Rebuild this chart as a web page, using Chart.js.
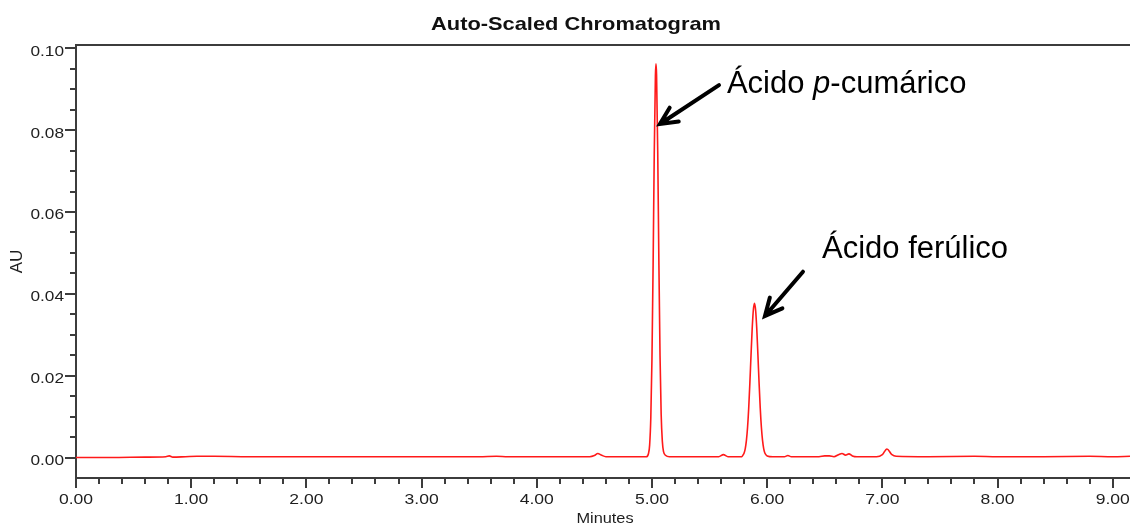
<!DOCTYPE html>
<html>
<head>
<meta charset="utf-8">
<title>Auto-Scaled Chromatogram</title>
<script src="https://cdn.jsdelivr.net/npm/chart.js@4/dist/chart.umd.min.js"></script>
<style>
  html, body { margin: 0; padding: 0; background: #fff; }
  canvas { display: block; }
</style>
</head>
<body>
<canvas id="chromatogram" width="1130" height="527"></canvas>
<script>
// Retention time (minutes) and detector response (AU)
const retentionTimes = [
  0.00, 0.30, 0.60, 0.78, 0.81, 0.84, 0.95, 1.05, 1.20, 1.50,
  2.00, 2.50, 3.00, 3.50, 3.65, 3.75, 4.00, 4.30, 4.46, 4.50,
  4.53, 4.56, 4.60, 4.80, 4.95, 4.97, 4.98, 4.99, 5.00, 5.01,
  5.02, 5.03, 5.035, 5.04, 5.05, 5.06, 5.07, 5.08, 5.09, 5.10,
  5.12, 5.15, 5.40, 5.58, 5.62, 5.66, 5.78, 5.79, 5.80, 5.81,
  5.82, 5.83, 5.84, 5.85, 5.86, 5.87, 5.88, 5.89, 5.90, 5.91,
  5.92, 5.93, 5.94, 5.95, 5.96, 5.97, 5.98, 6.00, 6.05, 6.15,
  6.18, 6.21, 6.30, 6.45, 6.50, 6.54, 6.58, 6.62, 6.65, 6.68,
  6.71, 6.74, 6.78, 6.95, 7.00, 7.04, 7.08, 7.12, 7.40, 7.80,
  8.00, 8.40, 8.80, 9.00, 9.15
];
const absorbance = [
  0.0000, 0.0000, 0.0001, 0.0002, 0.0004, 0.0001, 0.0002, 0.0003, 0.0003, 0.0002,
  0.0002, 0.0002, 0.0002, 0.0002, 0.0003, 0.0002, 0.0002, 0.0002, 0.0002, 0.0005,
  0.0010, 0.0006, 0.0002, 0.0002, 0.0002, 0.0010, 0.0031, 0.0097, 0.0240, 0.0470,
  0.0744, 0.0933, 0.0962, 0.0935, 0.0750, 0.0480, 0.0250, 0.0105, 0.0040, 0.0015,
  0.0005, 0.0002, 0.0002, 0.0002, 0.0007, 0.0002, 0.0002, 0.0006, 0.0011, 0.0022,
  0.0042, 0.0074, 0.0121, 0.0182, 0.0250, 0.0314, 0.0360, 0.0377, 0.0360, 0.0314,
  0.0250, 0.0182, 0.0121, 0.0074, 0.0042, 0.0022, 0.0011, 0.0004, 0.0002, 0.0002,
  0.0005, 0.0002, 0.0002, 0.0002, 0.0004, 0.0004, 0.0002, 0.0007, 0.0010, 0.0006,
  0.0009, 0.0004, 0.0002, 0.0002, 0.0007, 0.0021, 0.0008, 0.0003, 0.0002, 0.0003,
  0.0002, 0.0002, 0.0003, 0.0002, 0.0003
];

// Axis ticks
const xTickValues = [0, 1, 2, 3, 4, 5, 6, 7, 8, 9];
const yTickValues = [0.00, 0.02, 0.04, 0.06, 0.08, 0.10];

// Peak labels (text pieces, italic flag)
const peakLabels = [
  [['Ácido ', false], ['p', true], ['-cumárico', false]],
  [['Ácido ferúlico', false]]
];

// Where the labels and arrows sit, in data units (minutes, AU)
const peakAnnotations = [
  { text: { x: 5.651, y: 0.0891 }, tail: { x: 5.582, y: 0.0910 }, tip: { x: 5.069, y: 0.0815 } },
  { text: { x: 6.476, y: 0.0488 }, tail: { x: 6.311, y: 0.0454 }, tip: { x: 5.981, y: 0.0346 } }
];

const axisColor = '#3c3c3c';
const textColor = '#1e1e1e';
const sansFont = '"Liberation Sans", Arial, sans-serif';

// Draw text squeezed/stretched horizontally
function stretchText(ctx, text, x, y, sx, align) {
  ctx.save();
  ctx.translate(x, y);
  ctx.scale(sx, 1);
  ctx.textAlign = align;
  ctx.fillText(text, 0, 0);
  ctx.restore();
}

function drawArrow(ctx, x0, y0, x1, y1) {
  const ang = Math.atan2(y0 - y1, x0 - x1);
  const wing = 19;
  const spread = 0.45;
  ctx.beginPath();
  ctx.moveTo(x0, y0);
  ctx.lineTo(x1, y1);
  ctx.moveTo(x1 + wing * Math.cos(ang - spread), y1 + wing * Math.sin(ang - spread));
  ctx.lineTo(x1, y1);
  ctx.lineTo(x1 + wing * Math.cos(ang + spread), y1 + wing * Math.sin(ang + spread));
  ctx.stroke();
}

const chromatogramDecor = {
  id: 'chromatogramDecor',
  afterDraw(chart) {
    const ctx = chart.ctx;
    const xs = chart.scales.x;
    const ys = chart.scales.y;
    const area = chart.chartArea;

    ctx.save();
    ctx.strokeStyle = axisColor;
    ctx.lineWidth = 2;

    // top frame line
    ctx.beginPath();
    ctx.moveTo(area.left - 1, area.top);
    ctx.lineTo(area.right, area.top);
    ctx.stroke();

    // x ticks: major every minute, minor every 0.2
    ctx.beginPath();
    for (let i = 0; i * 0.2 <= xs.max + 1e-9; i++) {
      const px = Math.round(xs.getPixelForValue(i * 0.2));
      const len = i % 5 === 0 ? 10 : 6;
      ctx.moveTo(px, area.bottom);
      ctx.lineTo(px, area.bottom + len);
    }
    // y ticks: major every 0.02, minor every 0.005
    for (let i = 0; i * 0.005 <= ys.max + 1e-9; i++) {
      const py = Math.round(ys.getPixelForValue(i * 0.005));
      const len = i % 4 === 0 ? 11 : 6;
      ctx.moveTo(area.left, py);
      ctx.lineTo(area.left - len, py);
    }
    ctx.stroke();

    // tick labels
    ctx.fillStyle = textColor;
    ctx.font = '15px ' + sansFont;
    ctx.textBaseline = 'alphabetic';
    xTickValues.forEach(v => {
      stretchText(ctx, v.toFixed(2), xs.getPixelForValue(v), area.bottom + 26, 1.17, 'center');
    });
    yTickValues.forEach(v => {
      stretchText(ctx, v.toFixed(2), area.left - 12, ys.getPixelForValue(v) + 7.5, 1.15, 'right');
    });

    // axis titles
    stretchText(ctx, 'Minutes', (area.left + area.right) / 2 + 2, 523, 1.09, 'center');
    ctx.save();
    ctx.translate(22, (area.top + area.bottom) / 2);
    ctx.rotate(-Math.PI / 2);
    ctx.font = '17px ' + sansFont;
    ctx.textAlign = 'center';
    ctx.fillText('AU', 0, 0);
    ctx.restore();

    // chart title
    ctx.fillStyle = '#111';
    ctx.font = 'bold 18.5px ' + sansFont;
    stretchText(ctx, 'Auto-Scaled Chromatogram', 576, 30, 1.18, 'center');

    // peak arrows and labels
    ctx.strokeStyle = '#000';
    ctx.lineWidth = 4;
    ctx.lineCap = 'round';
    ctx.lineJoin = 'miter';
    ctx.fillStyle = '#000';
    ctx.textAlign = 'left';
    peakAnnotations.forEach((a, k) => {
      drawArrow(ctx,
        xs.getPixelForValue(a.tail.x), ys.getPixelForValue(a.tail.y),
        xs.getPixelForValue(a.tip.x), ys.getPixelForValue(a.tip.y));
      let tx = xs.getPixelForValue(a.text.x);
      const ty = ys.getPixelForValue(a.text.y);
      peakLabels[k].forEach(([part, italic]) => {
        ctx.font = (italic ? 'italic ' : '') + '31px ' + sansFont;
        ctx.fillText(part, tx, ty);
        tx += ctx.measureText(part).width;
      });
    });
    ctx.restore();
  }
};

new Chart(document.getElementById('chromatogram'), {
  type: 'line',
  data: {
    datasets: [{
      label: 'AU',
      data: retentionTimes.map((t, i) => ({ x: t, y: absorbance[i] })),
      borderColor: '#ff1a1a',
      borderWidth: 1.6,
      pointRadius: 0,
      cubicInterpolationMode: 'monotone',
      fill: false
    }]
  },
  options: {
    responsive: false,
    animation: false,
    devicePixelRatio: 1,
    layout: { padding: { top: 45, right: 0, left: 0, bottom: 0 } },
    plugins: {
      legend: { display: false },
      title: { display: false },
      tooltip: { enabled: false }
    },
    scales: {
      x: {
        type: 'linear',
        min: 0,
        max: 9.15,
        grid: { display: false },
        ticks: { display: false },
        border: { display: true, color: axisColor, width: 2 },
        afterFit: s => { s.height = 49; }
      },
      y: {
        min: -0.005,
        max: 0.1008,
        grid: { display: false },
        ticks: { display: false },
        border: { display: true, color: axisColor, width: 2 },
        afterFit: s => { s.width = 76; }
      }
    }
  },
  plugins: [chromatogramDecor]
});
</script>
</body>
</html>
